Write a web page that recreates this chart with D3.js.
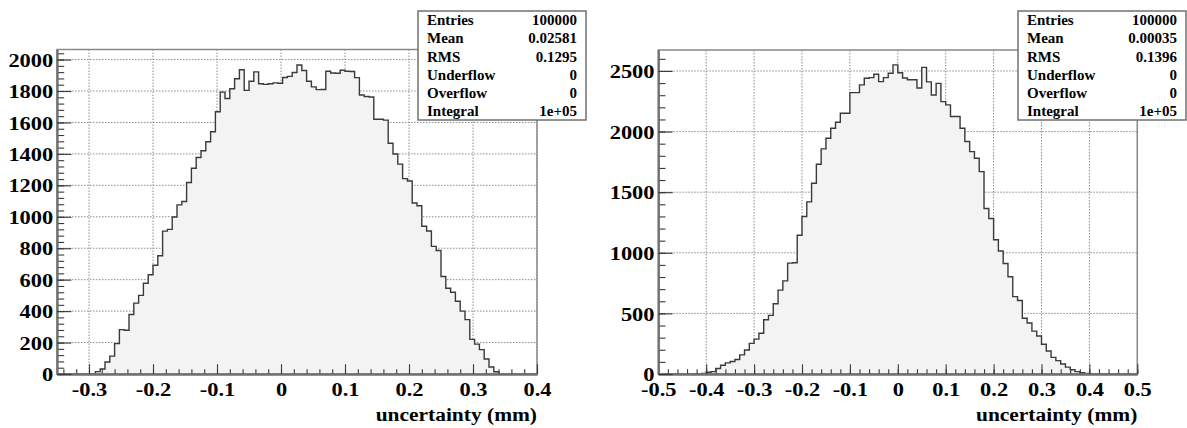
<!DOCTYPE html>
<html><head><meta charset="utf-8">
<script src="https://cdn.jsdelivr.net/npm/d3@7"></script>
<style>
body{margin:0;background:#fff}
svg{display:block}
text{font-family:"Liberation Serif","Times New Roman",serif;font-weight:bold;fill:#000}
</style>
</head><body>
<svg id="c" width="1187" height="428"></svg>
<script>
// ---- data ----
const leftCounts = [0,0,0,0,0,0,0,0,
  15,32,76,114,193,282,278,378,451,500,577,631,692,752,909,920,999,1076,1097,1218,1309,1377,
  1420,1477,1541,1668,1793,1752,1814,1878,1935,1804,1862,1922,1846,1842,1846,1852,1849,1886,1893,1918,
  1965,1930,1862,1826,1809,1810,1926,1915,1913,1932,1926,1924,1885,1775,1765,1762,1620,1620,1615,1468,
  1399,1335,1243,1228,1088,1070,940,910,812,786,620,545,520,463,400,346,220,190,155,95,45,14,
  0,0,0,0,0,0,0,0];
const rightCounts = [0,0,0,0,0,0,0,1,2,5,
  15,20,45,72,92,103,120,158,198,253,288,336,448,484,580,692,768,915,918,1145,
  1299,1420,1574,1731,1857,1945,2027,2077,2151,2151,2321,2321,2385,2440,2445,2473,2412,2445,2481,2550,
  2485,2442,2427,2427,2360,2530,2410,2302,2398,2247,2220,2124,2124,2027,1918,1835,1780,1670,1365,1283,
  1107,1015,912,802,638,606,460,421,354,313,245,190,137,110,82,57,35,20,10,5,3,1,
  0,0,0,0,0,0,0,0];
const leftRange = [-0.35, 0.4];
const rightRange = [-0.5, 0.5];
const leftYMax = 2064;
const rightYMax = 2673;
const leftXTicks = [-0.3,-0.2,-0.1,0,0.1,0.2,0.3,0.4];
const leftXTickLabels = ["-0.3","-0.2","-0.1","0","0.1","0.2","0.3","0.4"];
const rightXTicks = [-0.5,-0.4,-0.3,-0.2,-0.1,0,0.1,0.2,0.3,0.4,0.5];
const rightXTickLabels = ["-0.5","-0.4","-0.3","-0.2","-0.1","0","0.1","0.2","0.3","0.4","0.5"];
const leftYTicks = [0,200,400,600,800,1000,1200,1400,1600,1800,2000];
const leftYTickLabels = ["0","200","400","600","800","1000","1200","1400","1600","1800","2000"];
const rightYTicks = [0,500,1000,1500,2000,2500];
const rightYTickLabels = ["0","500","1000","1500","2000","2500"];
const statsLabels = ["Entries","Mean","RMS","Underflow","Overflow","Integral"];
const leftStats = ["100000","0.02581","0.1295","0","0","1e+05"];
const rightStats = ["100000","0.00035","0.1396","0","0","1e+05"];
const xTitle = "uncertainty (mm)";

const svg = d3.select("#c");

function panel(cfg){
  const g = svg.append("g");
  const x = d3.scaleLinear().domain(cfg.range).range([cfg.x0, cfg.x1]);
  const y = d3.scaleLinear().domain([0, cfg.ymax]).range([cfg.y1, cfg.y0]);
  const n = cfg.counts.length;
  const w = (cfg.range[1]-cfg.range[0])/n;

  // grid
  g.append("g").selectAll("line").data(cfg.xTicks).join("line")
    .attr("x1", d=>x(d)).attr("x2", d=>x(d)).attr("y1", cfg.y0).attr("y2", cfg.y1)
    .attr("stroke","#8c8c8c").attr("stroke-width",1).attr("stroke-dasharray","1.5,1.5");
  g.append("g").selectAll("line").data(cfg.yTicks.filter(d=>d>0)).join("line")
    .attr("x1", cfg.x0).attr("x2", cfg.x1).attr("y1", d=>y(d)).attr("y2", d=>y(d))
    .attr("stroke","#8c8c8c").attr("stroke-width",1).attr("stroke-dasharray","1.5,1.5");

  // histogram
  const pts = cfg.counts.map((c,i)=>({x: cfg.range[0]+i*w, c}));
  pts.push({x: cfg.range[1], c: cfg.counts[n-1]});
  const area = d3.area().curve(d3.curveStepAfter).x(d=>x(d.x)).y0(y(0)).y1(d=>y(d.c));
  const line = d3.line().curve(d3.curveStepAfter).x(d=>x(d.x)).y(d=>y(d.c));
  g.append("path").attr("d", area(pts)).attr("fill","#f3f3f3");
  g.append("path").attr("d", line(pts)).attr("fill","none").attr("stroke","#3a3a3a").attr("stroke-width",1.4);

  // frame
  g.append("rect").attr("x",cfg.x0).attr("y",cfg.y0).attr("width",cfg.x1-cfg.x0).attr("height",cfg.y1-cfg.y0)
    .attr("fill","none").attr("stroke","#8a8a8a").attr("stroke-width",1.5);

  const fw = cfg.x1-cfg.x0, fh = cfg.y1-cfg.y0;
  // x axis
  const xMin = d3.range(Math.round(cfg.range[0]/0.02), Math.round(cfg.range[1]/0.02)+1).map(k=>k*0.02)
    .filter(v=>v>=cfg.range[0]-1e-9 && v<=cfg.range[1]+1e-9);
  const xaMinor = d3.axisBottom(x).tickValues(xMin).tickSize(-fh*0.015).tickSizeOuter(0).tickFormat("");
  const xaMajor = d3.axisBottom(x).tickValues(cfg.xTicks).tickSize(-fh*0.03).tickSizeOuter(0)
    .tickFormat((d,i)=>cfg.xLabels[i]);
  const gxm = g.append("g").attr("transform",`translate(0,${cfg.y1})`).call(xaMinor);
  const gx = g.append("g").attr("transform",`translate(0,${cfg.y1})`).call(xaMajor);
  gx.selectAll("text").attr("y", 22.5).attr("dy", null)
    .attr("transform","scale(1.15,1)").style("font-size","19.5px");

  // y axis
  const yStep = cfg.yTicks[1]/5;
  const yMin = d3.range(0, Math.floor(cfg.ymax/yStep)+1).map(k=>k*yStep);
  const yaMinor = d3.axisLeft(y).tickValues(yMin).tickSize(-fw*0.015).tickSizeOuter(0).tickFormat("");
  const yaMajor = d3.axisLeft(y).tickValues(cfg.yTicks).tickSize(-fw*0.03).tickSizeOuter(0).tickPadding(3.3)
    .tickFormat((d,i)=>cfg.yLabels[i]);
  const gym = g.append("g").attr("transform",`translate(${cfg.x0},0)`).call(yaMinor);
  const gy = g.append("g").attr("transform",`translate(${cfg.x0},0)`).call(yaMajor);
  gy.selectAll("text").attr("dy","0.34em").attr("transform","scale(1.15,1)").style("font-size","19.5px");

  [gxm,gx,gym,gy].forEach(a=>{
    a.attr("font-family",null).attr("font-size",null);
    a.select(".domain").attr("stroke","#707070").attr("stroke-width",1.8);
    a.selectAll(".tick line").attr("stroke","#3a3a3a").attr("stroke-width",1.1);
  });

  // axis title
  g.append("text").attr("transform",`translate(${cfg.x1},421) scale(1.1,1)`)
    .attr("text-anchor","end").style("font-size","19.5px").text(xTitle);

  // stats box
  const b = cfg.box;
  g.append("rect").attr("x",b[0]).attr("y",b[1]).attr("width",b[2]-b[0]).attr("height",b[3]-b[1])
    .attr("fill","#fff").attr("stroke","#707070").attr("stroke-width",1.5);
  statsLabels.forEach((s,i)=>{
    const yy = 25.3 + i*18.1;
    g.append("text").attr("x",b[0]+9).attr("y",yy).style("font-size","15px").text(s);
    g.append("text").attr("x",b[2]-9).attr("y",yy).attr("text-anchor","end").style("font-size","15px").text(cfg.stats[i]);
  });
}

panel({counts:leftCounts, range:leftRange, ymax:leftYMax, x0:57, x1:537, y0:49.5, y1:374,
  xTicks:leftXTicks, xLabels:leftXTickLabels, yTicks:leftYTicks, yLabels:leftYTickLabels,
  box:[418,11,586,120], stats:leftStats});
panel({counts:rightCounts, range:rightRange, ymax:rightYMax, x0:658.3, x1:1137.3, y0:50, y1:374,
  xTicks:rightXTicks, xLabels:rightXTickLabels, yTicks:rightYTicks, yLabels:rightYTickLabels,
  box:[1018,11,1186,120], stats:rightStats});
</script>
</body></html>
